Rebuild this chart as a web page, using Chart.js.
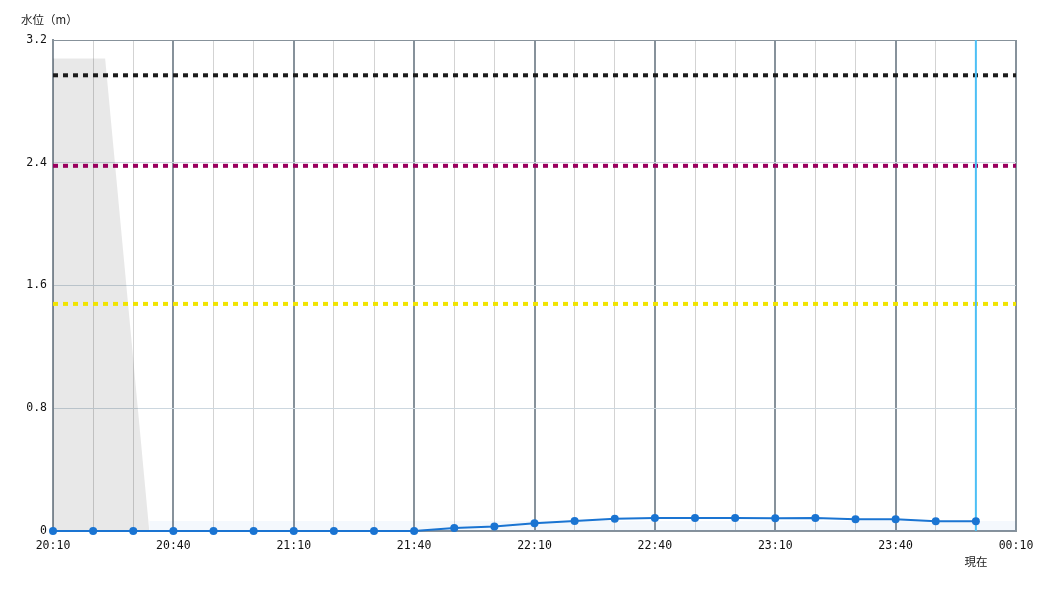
<!DOCTYPE html>
<html>
<head>
<meta charset="utf-8">
<script src="https://cdn.jsdelivr.net/npm/chart.js@4"></script>
<style>
  body { margin: 0; background: #fff; }
</style>
</head>
<body>
<canvas id="chart" width="1050" height="600"></canvas>
<script>
// observation times (10 min) and water level (m)
const times = ['20:10', '20:20', '20:30', '20:40', '20:50', '21:00', '21:10', '21:20',
  '21:30', '21:40', '21:50', '22:00', '22:10', '22:20', '22:30', '22:40', '22:50',
  '23:00', '23:10', '23:20', '23:30', '23:40', '23:50', '00:00'];
const levels = [0, 0, 0, 0, 0, 0, 0, 0, 0, 0, 0.02, 0.03, 0.05, 0.065, 0.08, 0.085,
  0.085, 0.085, 0.083, 0.085, 0.076, 0.076, 0.063, 0.063];

// threshold lines
const thresholdLevels = [2.97, 2.38, 1.48];

// grey shaded area at the start
const shadeTimes = ['20:10', '20:23', '20:34'];
const shadeLevels = [3.08, 3.08, 0];

// faint band under the line
const bandTimes = ['20:34', '00:10'];
const bandLevels = [0.065, 0.065];

const axisStart = '20:10';
const axisEnd = '00:10';
const nowTime = '00:00';
const yTicks = [0, 0.8, 1.6, 2.4, 3.2];
const yTitle = '水位（m）';
const nowLabel = '現在';

// minutes since axis start, wraps past midnight
function toMin(s) {
  const [h, m] = s.split(':').map(Number);
  const base = 20 * 60 + 10;
  let t = h * 60 + m;
  if (t < base) t += 1440;
  return t - base;
}
function toLabel(v) {
  const t = (20 * 60 + 10 + v) % 1440;
  const h = Math.floor(t / 60), m = t % 60;
  return String(h).padStart(2, '0') + ':' + String(m).padStart(2, '0');
}
function pairs(ts, vs) {
  return ts.map((t, i) => ({ x: toMin(t), y: vs[i] }));
}

const xMin = toMin(axisStart);
const xMax = toMin(axisEnd);
const majorGrid = '#87929b';
const monoFont = { family: 'DejaVu Sans Mono', size: 11.5 };

const thresholdColors = ['#1c1c1c', '#99005e', '#f0e400'];
const thresholdSets = thresholdLevels.map((lv, i) => ({
  data: [{ x: xMin, y: lv }, { x: xMax, y: lv }],
  borderColor: thresholdColors[i],
  borderWidth: 4,
  borderDash: [5, 5],
  pointRadius: 0,
  fill: false,
}));

// labels drawn outside the chart area
const extraText = {
  id: 'extraText',
  afterDraw(chart) {
    const c = chart.ctx;
    c.save();
    c.fillStyle = '#222';
    c.font = '11.5px "Noto Sans CJK JP"';
    c.textBaseline = 'middle';
    c.textAlign = 'left';
    c.fillText(yTitle, 21, 20);
    c.textAlign = 'center';
    c.fillText(nowLabel, chart.scales.x.getPixelForValue(toMin(nowTime)), 562);
    c.restore();
  }
};

new Chart(document.getElementById('chart'), {
  type: 'line',
  data: {
    datasets: [
      {
        data: pairs(times, levels),
        borderColor: '#1a74d2',
        backgroundColor: '#1a74d2',
        borderWidth: 2,
        pointRadius: 4,
        pointBorderWidth: 0,
        tension: 0,
        fill: false,
        clip: false,
      },
      {
        data: [{ x: toMin(nowTime), y: 0 }, { x: toMin(nowTime), y: 3.2 }],
        borderColor: '#4cbff5',
        borderWidth: 2,
        pointRadius: 0,
        fill: false,
      },
      ...thresholdSets,
      {
        data: pairs(bandTimes, bandLevels),
        borderWidth: 0,
        pointRadius: 0,
        backgroundColor: 'rgba(30,120,220,0.05)',
        fill: 'origin',
      },
      {
        data: pairs(shadeTimes, shadeLevels),
        borderWidth: 0,
        pointRadius: 0,
        backgroundColor: 'rgba(0,0,0,0.09)',
        fill: 'origin',
      },
    ]
  },
  options: {
    responsive: false,
    animation: false,
    layout: { padding: { top: 40, right: 34, left: 0, bottom: 0 } },
    plugins: { legend: { display: false }, tooltip: { enabled: false } },
    scales: {
      x: {
        type: 'linear',
        min: xMin,
        max: xMax,
        afterFit: s => { s.height = 69; },
        ticks: {
          stepSize: 10,
          autoSkip: false,
          maxRotation: 0,
          padding: 8,
          color: '#111',
          font: monoFont,
          callback: v => (v % 30 === 0 ? toLabel(v) : ''),
        },
        grid: {
          drawTicks: false,
          color: c => (c.tick && c.tick.value % 30 === 0 ? majorGrid : '#d3d3d3'),
          lineWidth: c => (c.tick && c.tick.value % 30 === 0 ? 2 : 1),
        },
        border: { color: majorGrid, width: 2 },
      },
      y: {
        min: 0,
        max: 3.2,
        afterFit: s => { s.width = 53; },
        afterBuildTicks: s => { s.ticks = yTicks.map(v => ({ value: v })); },
        ticks: {
          padding: 6,
          color: '#111',
          font: monoFont,
          callback: v => (v === 0 ? '0' : v.toFixed(1)),
        },
        grid: {
          drawTicks: false,
          color: c => (c.tick && Math.abs(c.tick.value - 3.2) < 1e-6 ? majorGrid : '#ccd7df'),
          lineWidth: 1,
        },
        border: { color: majorGrid, width: 2 },
      }
    }
  },
  plugins: [extraText]
});
</script>
</body>
</html>
